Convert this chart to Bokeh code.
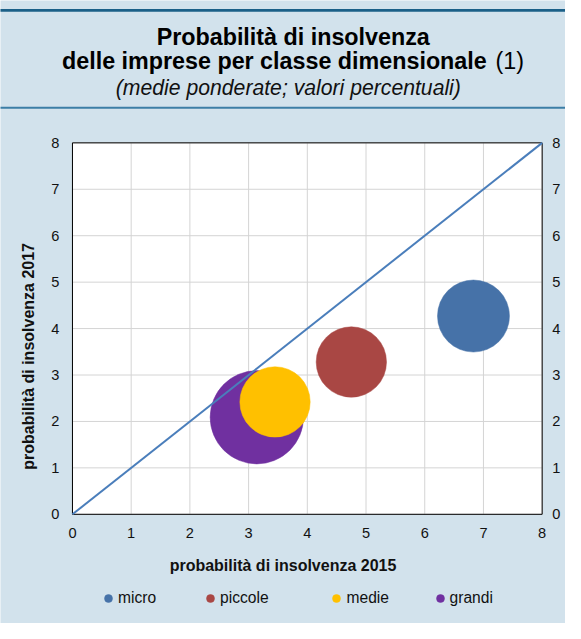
import math
from bokeh.plotting import figure
from bokeh.models import (Range1d, FixedTicker, Label, LinearAxis, ColumnDataSource,
                          Legend, LegendItem)
from bokeh.embed import file_html
from bokeh.resources import INLINE

# ---------------- data ----------------
classes = ["micro", "piccole", "medie", "grandi"]
pd_2015 = [6.83, 4.75, 3.45, 3.14]     # probabilità di insolvenza 2015
pd_2017 = [4.27, 3.28, 2.42, 2.09]     # probabilità di insolvenza 2017
weight = [22, 21, 21, 37]              # bubble weight (relative area)
axis_ticks = [0, 1, 2, 3, 4, 5, 6, 7, 8]
diag_x = [0, 8]
diag_y = [0, 8]

# ---------------- styles / layout ----------------
colors = ["#4672a8", "#a94744", "#ffc000", "#7030a0"]
BG = "#d2e2ec"
FONT = "Liberation Sans"
TXT = "#111111"

W, H = 565, 623
SX, SY = W / 581.0, H / 639.0          # reference px -> figure px
FL, FR = 74 * SX, 557 * SX             # plot area edges (figure px)
FT, FB = 146 * SY, 527 * SY
ppx = (FR - FL) / 8.0
ppy = (FB - FT) / 8.0
MAX_D = 96 * SX


def dx(ref_x):
    return (ref_x * SX - FL) / ppx


def dy(ref_y):
    return (FB - ref_y * SY) / ppy


p = figure(width=W, height=H, output_backend="svg", toolbar_location=None,
           x_range=Range1d(dx(0), dx(581)), y_range=Range1d(dy(639), dy(0)),
           x_axis_type=None, y_axis_type=None,
           min_border=0, min_border_left=0, min_border_right=0,
           min_border_top=0, min_border_bottom=0)
p.border_fill_color = BG
p.background_fill_color = BG
p.outline_line_color = None

# header rules
p.quad(left=[dx(-5)], right=[dx(590)], top=[dy(8.6)], bottom=[dy(11.6)],
       fill_color="#1b6088", line_color=None)
p.quad(left=[dx(-5)], right=[dx(590)], top=[dy(109)], bottom=[dy(111)],
       fill_color="#3c7ea6", line_color=None)

# plot area
p.quad(left=[0], right=[8], bottom=[0], top=[8], fill_color="white", line_color=None)
grid_lo = [0] * len(axis_ticks)
grid_hi = [8] * len(axis_ticks)
p.segment(x0=axis_ticks, y0=grid_lo, x1=axis_ticks, y1=grid_hi,
          line_color="#d4d4d4", line_width=1)
p.segment(x0=grid_lo, y0=axis_ticks, x1=grid_hi, y1=axis_ticks,
          line_color="#d4d4d4", line_width=1)
p.quad(left=[0], right=[8], bottom=[0], top=[8], fill_color=None,
       line_color="black", line_width=1)


# axes fixed at the plot area edges
def style_axis(ax, standoff):
    ax.ticker = FixedTicker(ticks=axis_ticks)
    ax.axis_line_color = None
    ax.major_tick_line_color = None
    ax.minor_tick_line_color = None
    ax.major_tick_out = 0
    ax.major_tick_in = 0
    ax.major_label_standoff = standoff
    ax.major_label_text_font = FONT
    ax.major_label_text_font_size = "14.6px"
    ax.major_label_text_color = TXT


xax = LinearAxis(fixed_location=0)
style_axis(xax, 14)
xax.axis_label = "probabilità di insolvenza 2015"
xax.axis_label_text_font = FONT
xax.axis_label_text_font_size = "16px"
xax.axis_label_text_font_style = "bold"
xax.axis_label_text_color = TXT
xax.axis_label_standoff = 15
p.add_layout(xax, "below")

yax = LinearAxis(fixed_location=0)
style_axis(yax, 13)
p.add_layout(yax, "left")

yax2 = LinearAxis(fixed_location=8)
style_axis(yax2, 10)
p.add_layout(yax2, "right")

# y axis title
p.add_layout(Label(x=dx(29), y=dy(365), text="probabilità di insolvenza 2017",
                   angle=math.pi / 2, text_align="center", text_baseline="middle",
                   text_font=FONT, text_font_size="16px", text_font_style="bold",
                   text_color=TXT))

# titles
TS = "23.3px"
p.add_layout(Label(x=dx(301), y=dy(37), text="Probabilità di insolvenza",
                   text_align="center", text_baseline="middle",
                   text_font=FONT, text_font_size=TS, text_font_style="bold",
                   text_color="black"))
p.add_layout(Label(x=dx(500), y=dy(62), text="delle imprese per classe dimensionale",
                   text_align="right", text_baseline="middle",
                   text_font=FONT, text_font_size=TS, text_font_style="bold",
                   text_color="black"))
p.add_layout(Label(x=dx(509), y=dy(62), text="(1)",
                   text_align="left", text_baseline="middle",
                   text_font=FONT, text_font_size=TS, text_font_style="normal",
                   text_color="black"))
p.add_layout(Label(x=dx(296), y=dy(89), text="(medie ponderate; valori percentuali)",
                   text_align="center", text_baseline="middle",
                   text_font=FONT, text_font_size="21.2px", text_font_style="italic",
                   text_color=TXT))

# bubbles: grandi first, then diagonal, then the others
renderers = {}


def bubble(i):
    src = ColumnDataSource(dict(x=[pd_2015[i]], y=[pd_2017[i]],
                                s=[MAX_D * math.sqrt(weight[i] / max(weight))]))
    r = p.scatter(x="x", y="y", size="s", source=src, marker="circle",
                  fill_color=colors[i], line_color=colors[i], line_width=0.5)
    renderers[classes[i]] = r


bubble(3)
p.line(diag_x, diag_y, line_color="#4a7ebb", line_width=2)
for i in (0, 1, 2):
    bubble(i)

# legend (one per entry to match the spacing of the reference)
legend_dot_ref_x = [111, 216, 346, 452]
legend_ref_y = 613
for i, name in enumerate(classes):
    vx = legend_dot_ref_x[i] * SX - 10
    vy = H - legend_ref_y * SY - 10
    leg = Legend(items=[LegendItem(label=name, renderers=[renderers[name]])],
                 location=(vx, vy), orientation="horizontal",
                 glyph_width=20, glyph_height=20, label_standoff=-4,
                 padding=0, margin=0, spacing=0,
                 background_fill_alpha=0, border_line_alpha=0,
                 label_text_font=FONT, label_text_font_size="15.6px",
                 label_text_color=TXT)
    p.add_layout(leg)

open("out.html", "w").write(file_html(p, INLINE))
